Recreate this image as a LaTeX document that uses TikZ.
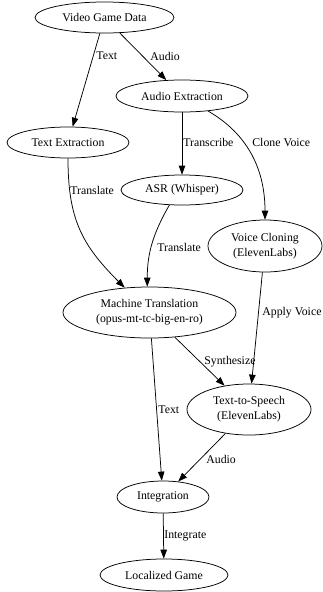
\documentclass[tikz,border=0pt]{standalone}
\usepackage{fontspec}
\setmainfont{Liberation Serif}
\usetikzlibrary{shapes.geometric,arrows.meta}

\begin{document}
\begin{tikzpicture}[x=1pt,y=-1pt,
    stage/.style={draw,ellipse,inner sep=0pt,align=center,line width=0.75pt,
        font=\fontsize{11.8}{15}\selectfont},
    lbl/.style={anchor=west,inner sep=0pt,font=\fontsize{11.8}{14}\selectfont},
    flow/.style={-{Triangle[length=9pt,width=6.5pt]},line width=0.75pt}]
\useasboundingbox (0,0) rectangle (322,592);
\node[stage,minimum width=139,minimum height=31] (data) at (104.5,17.5) {Video Game Data};
\node[stage,minimum width=132,minimum height=32] (audiox) at (182,96) {Audio Extraction};
\node[stage,minimum width=122,minimum height=31] (textx) at (68,142.5) {Text Extraction};
\node[stage,minimum width=122,minimum height=30] (asr) at (182,190) {ASR (Whisper)};
\node[stage,minimum width=114,minimum height=52] (clone) at (265,246) {Voice Cloning\\(ElevenLabs)};
\node[stage,minimum width=173,minimum height=51] (mt) at (149.5,312.5) {Machine Translation\\(opus-mt-tc-big-en-ro)};
\node[stage,minimum width=124,minimum height=51] (tts) at (249,409.5) {Text-to-Speech\\(ElevenLabs)};
\node[stage,minimum width=92,minimum height=32] (integ) at (163,497) {Integration};
\node[stage,minimum width=128,minimum height=32] (game) at (164,575) {Localized Game};

\draw[flow] (data) -- (textx) node[lbl] at (96,56) {Text};
\draw[flow] (data) -- (audiox) node[lbl] at (150,56) {Audio};
\draw[flow] (audiox) -- (asr) node[lbl] at (183,142) {Transcribe};
\draw[flow] (audiox) to[out=-30,in=90] (clone) node[lbl] at (252,142) {Clone Voice};
\draw[flow] (textx) to[out=-90,in=135,looseness=1.1] (mt) node[lbl] at (70,190) {Translate};
\draw[flow] (asr.-130) to[out=-120,in=90] (mt.95) node[lbl] at (157,247) {Translate};
\draw[flow] (clone) -- (tts) node[lbl] at (262,313) {Apply Voice};
\draw[flow] (mt) -- (tts) node[lbl] at (204,362) {Synthesize};
\draw[flow] (mt) -- (integ) node[lbl] at (158,410) {Text};
\draw[flow] (tts) -- (integ) node[lbl] at (206,459) {Audio};
\draw[flow] (integ) -- (game) node[lbl] at (164,536) {Integrate};
\end{tikzpicture}
\end{document}
